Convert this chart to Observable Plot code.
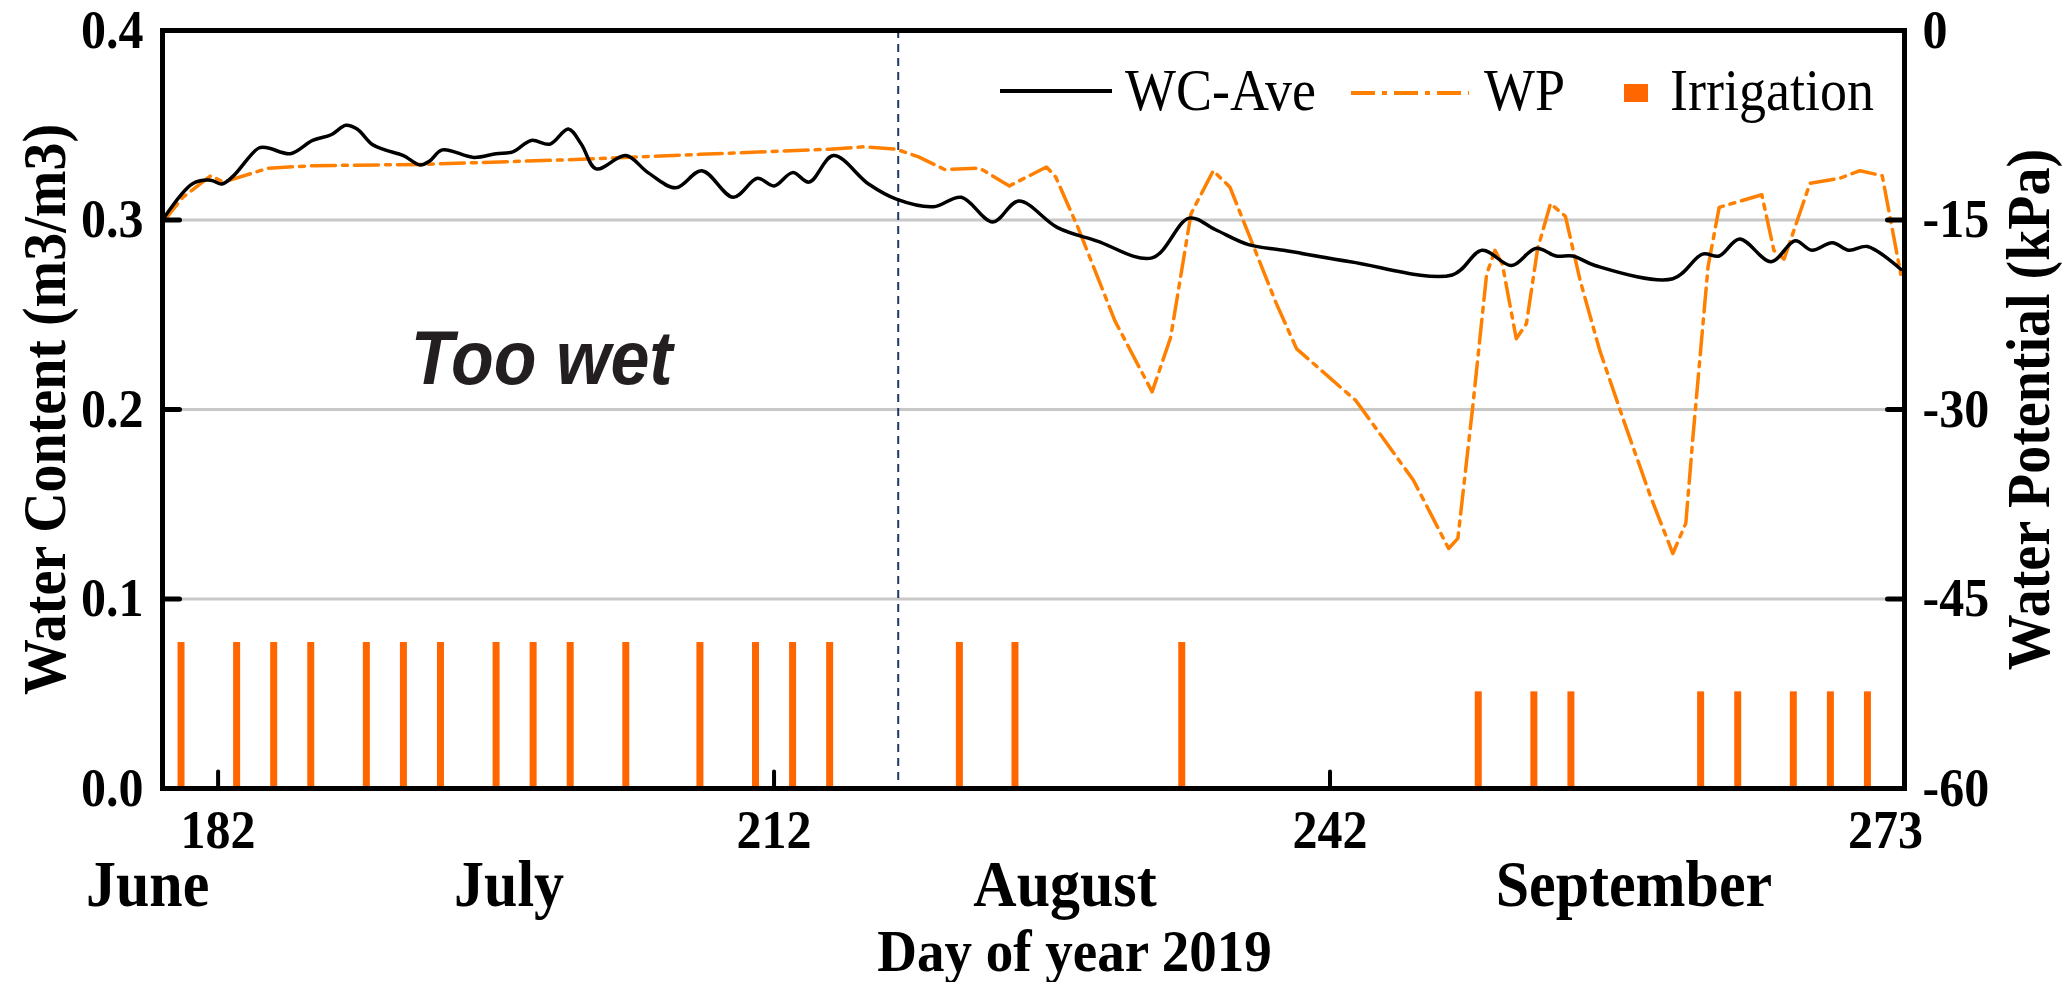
<!DOCTYPE html>
<html>
<head>
<meta charset="utf-8">
<script src="https://cdn.jsdelivr.net/npm/d3@7"></script>
<script src="https://cdn.jsdelivr.net/npm/@observablehq/plot@0.6"></script>
<style>
  html, body { margin: 0; padding: 0; background: #ffffff; }
  #wrap { position: relative; width: 2069px; height: 982px; overflow: hidden; }
</style>
</head>
<body>
<div id="wrap"></div>
<script>
// ---------- data ----------
const wcDays = [179.0, 180.6, 181.6, 182.2, 182.8, 184.2, 184.7, 185.9, 187.1, 188.1, 188.9, 189.5, 190.3, 191.0, 192.0, 192.9, 193.4, 194.1, 195.8, 197.0, 197.9, 198.9, 199.9, 200.9, 201.6, 202.4, 204.0, 205.2, 206.7, 208.1, 209.8, 211.1, 212.0, 213.0, 213.9, 215.2, 217.1, 218.6, 220.6, 222.1, 223.8, 225.2, 227.3, 229.4, 232.4, 234.4, 235.8, 237.6, 239.5, 243.1, 248.6, 250.2, 251.8, 253.1, 254.2, 255.1, 256.3, 260.5, 262.1, 263.0, 264.1, 265.8, 267.1, 268.0, 269.1, 270.0, 271.0, 272.8];
const wcValues = [0.300, 0.319, 0.321, 0.319, 0.323, 0.338, 0.338, 0.335, 0.342, 0.345, 0.350, 0.348, 0.340, 0.337, 0.334, 0.329, 0.331, 0.337, 0.333, 0.335, 0.336, 0.342, 0.340, 0.348, 0.340, 0.327, 0.334, 0.325, 0.317, 0.326, 0.312, 0.322, 0.318, 0.325, 0.320, 0.334, 0.319, 0.311, 0.307, 0.312, 0.299, 0.310, 0.296, 0.289, 0.280, 0.301, 0.295, 0.287, 0.284, 0.278, 0.271, 0.284, 0.276, 0.285, 0.281, 0.281, 0.276, 0.269, 0.282, 0.281, 0.290, 0.278, 0.289, 0.284, 0.288, 0.284, 0.286, 0.274];

const wpDays = [179.0, 180.1, 181.6, 182.3, 184.7, 187.1, 192.9, 201.6, 208.0, 215.0, 216.9, 218.6, 219.8, 221.2, 223.1, 224.7, 226.7, 227.2, 228.4, 230.4, 232.4, 233.4, 234.5, 235.7, 236.6, 239.1, 240.2, 243.4, 246.5, 248.4, 248.9, 249.7, 250.45, 250.9, 251.3, 252.05, 252.6, 253.2, 253.9, 254.7, 255.5, 256.55, 257.9, 259.3, 260.5, 261.2, 261.6, 262.4, 263.0, 265.3, 265.95, 266.5, 267.9, 269.5, 270.6, 271.8, 272.8];
const wpValues = [-15.2, -13.2, -11.5, -12.0, -10.9, -10.7, -10.6, -10.2, -9.8, -9.4, -9.2, -9.4, -10.0, -11.0, -10.9, -12.3, -10.8, -11.6, -15.6, -23.0, -28.6, -24.3, -14.5, -11.1, -12.4, -21.6, -25.2, -29.3, -35.6, -41.0, -40.2, -29.8, -19.3, -17.4, -18.5, -24.4, -23.2, -17.3, -13.7, -14.7, -19.8, -25.3, -31.1, -36.9, -41.4, -39.0, -31.9, -18.7, -14.0, -13.0, -17.4, -18.1, -12.1, -11.7, -11.1, -11.5, -19.3];

const irrigationDays = [180, 183, 185, 187, 190, 192, 194, 197, 199, 201, 204, 208, 211, 213, 215, 222, 225, 234, 250, 253, 255, 262, 264, 267, 269, 271];
const irrigationAmounts = [0.077, 0.077, 0.077, 0.077, 0.077, 0.077, 0.077, 0.077, 0.077, 0.077, 0.077, 0.077, 0.077, 0.077, 0.077, 0.077, 0.077, 0.077, 0.051, 0.051, 0.051, 0.051, 0.051, 0.051, 0.051, 0.051];

const dayTicks = [182, 212, 242];
const lastDayTick = [273];
const monthNames = ["June", "July", "August", "September"];
const monthTickDays = [178.2, 197.7, 227.7, 258.4];
const wcTicks = [0.0, 0.1, 0.2, 0.3, 0.4];
const wpTicks = [0, -15, -30, -45, -60];
const gridValues = [0.1, 0.2, 0.3];
const innerYTicks = [0.1, 0.2, 0.3];
const phaseBoundary = [218.7];
const annotations = [{day: 192.4, value: 0.2137, label: "Too wet"}];
const xTitle = ["Day of year 2019"];
const yLeftTitle = ["Water Content (m3/m3)"];
const yRightTitle = ["Water Potential (kPa)"];

// ---------- tables for the library ----------
const wc = wcDays.map((d, i) => ({day: d, value: wcValues[i]}));
const wp = wpDays.map((d, i) => ({day: d, kpa: wpValues[i]}));
const irrigation = irrigationDays.map((d, i) => ({day: d, amount: irrigationAmounts[i]}));

// WP (kPa, 0..-60) shares the frame with WC (0.4..0.0)
const wpToWc = (k) => 0.4 + k / 150;
const wcToWp = (v) => (v - 0.4) * 150;

const tickShape = {draw(context, l) { context.moveTo(0, 0); context.lineTo(0, -l); }};
const serif = "'Liberation Serif', 'Times New Roman', serif";

const chart = Plot.plot({
  width: 2069,
  height: 982,
  marginLeft: 162,
  marginRight: 165,
  marginTop: 30,
  marginBottom: 194,
  style: {fontFamily: serif, background: "transparent", color: "black", overflow: "visible"},
  x: {domain: [179, 273]},
  y: {domain: [0, 0.4]},
  marks: [
    Plot.ruleY(gridValues, {stroke: "#c8c8c8", strokeWidth: 3}),
    Plot.ruleX(irrigation, {x: "day", y1: 0, y2: "amount", stroke: "#ff6600", strokeWidth: 7}),
    Plot.ruleX(phaseBoundary, {stroke: "#203864", strokeWidth: 2, strokeDasharray: "8,6"}),
    Plot.line(wp, {x: "day", y: (d) => wpToWc(d.kpa), stroke: "#ff8000", strokeWidth: 3.5, strokeDasharray: "24,7,5,7", curve: "linear"}),
    Plot.line(wc, {x: "day", y: "value", stroke: "black", strokeWidth: 3.5, curve: "catmull-rom"}),
    Plot.text(annotations, {x: "day", y: "value", text: "label", textAnchor: "start", lineAnchor: "bottom",
      fontFamily: "'Liberation Sans', Arial, sans-serif", fontStyle: "italic", fontWeight: "bold", fontSize: 70, fill: "#231f20"}),
    Plot.frame({stroke: "black", strokeWidth: 5}),
    // inward tick marks
    Plot.vector(dayTicks, {x: (d) => d, frameAnchor: "bottom", length: 17, anchor: "start", shape: tickShape, stroke: "black", strokeWidth: 4}),
    Plot.vector(innerYTicks, {y: (d) => d, frameAnchor: "left", length: 17, rotate: 90, anchor: "start", shape: tickShape, stroke: "black", strokeWidth: 5}),
    Plot.vector(innerYTicks, {y: (d) => d, frameAnchor: "right", length: 17, rotate: -90, anchor: "start", shape: tickShape, stroke: "black", strokeWidth: 5}),
    // axes labels
    Plot.axisX({ticks: dayTicks, tickSize: 0, tickPadding: 21, tickFormat: (d) => String(d), fontSize: 50, fontWeight: "bold", label: null}),
    Plot.axisX({ticks: lastDayTick, tickSize: 0, tickPadding: 21, tickFormat: (d) => String(d), fontSize: 50, fontWeight: "bold", label: null, dx: -19}),
    Plot.axisX({ticks: monthTickDays, tickSize: 0, tickPadding: 71, tickFormat: (d) => monthNames[monthTickDays.indexOf(d)], fontSize: 60, fontWeight: "bold", label: null}),
    Plot.axisY({ticks: wcTicks, tickSize: 0, tickPadding: 19, tickFormat: d3.format(".1f"), fontSize: 50, fontWeight: "bold", label: null}),
    Plot.axisY({anchor: "right", ticks: wpTicks.map(wpToWc), tickSize: 0, tickPadding: 18,
      tickFormat: (v) => String(Math.round(wcToWp(v))), fontSize: 50, fontWeight: "bold", label: null}),
    // titles
    Plot.text(xTitle, {text: (d) => d, frameAnchor: "bottom", dx: 41, dy: 182, lineAnchor: "bottom", fontSize: 55, fontWeight: "bold"}),
    Plot.text(yLeftTitle, {text: (d) => d, frameAnchor: "left", dx: -140, rotate: -90, lineAnchor: "top", textAnchor: "middle", fontSize: 56, fontWeight: "bold"}),
    Plot.text(yRightTitle, {text: (d) => d, frameAnchor: "right", dx: 102, rotate: -90, lineAnchor: "top", textAnchor: "middle", fontSize: 56, fontWeight: "bold"})
  ]
});

// the reference's lettering is slightly taller than wide: stretch glyphs vertically about their anchor
const STRETCH = 1.08;
d3.select(chart).selectAll("text").each(function () {
  const t = this.getAttribute("transform");
  if (t) this.setAttribute("transform", t + ` scale(1,${STRETCH})`);
});

const wrap = document.getElementById("wrap");
wrap.appendChild(chart);

// ---------- legend (overlay inside the plot area) ----------
const leg = d3.create("svg")
  .attr("width", 2069).attr("height", 982)
  .style("position", "absolute").style("left", "0px").style("top", "0px")
  .style("pointer-events", "none")
  .style("font-family", serif);
leg.append("line").attr("x1", 1000).attr("x2", 1112).attr("y1", 91).attr("y2", 91)
  .attr("stroke", "black").attr("stroke-width", 4);
leg.append("text").attr("transform", `translate(1125,110) scale(1,${STRETCH})`).attr("font-size", 54).text("WC-Ave");
leg.append("line").attr("x1", 1351).attr("x2", 1469).attr("y1", 93).attr("y2", 93)
  .attr("stroke", "#ff8000").attr("stroke-width", 4).attr("stroke-dasharray", "24,7,5,7");
leg.append("text").attr("transform", `translate(1484,110) scale(1,${STRETCH})`).attr("font-size", 54).text("WP");
leg.append("rect").attr("x", 1624).attr("y", 84).attr("width", 24).attr("height", 18).attr("fill", "#ff6600");
leg.append("text").attr("transform", `translate(1670,110) scale(1,${STRETCH})`).attr("font-size", 54).text("Irrigation");
wrap.appendChild(leg.node());
</script>
</body>
</html>
